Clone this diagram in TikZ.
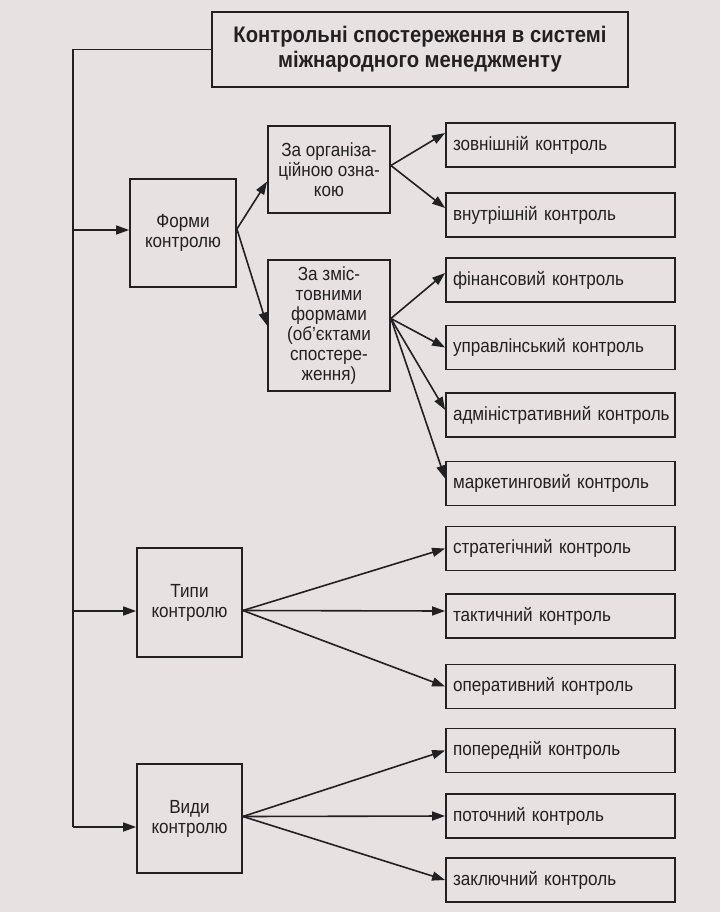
\documentclass[tikz,border=0pt]{standalone}
\usepackage{fontspec}
\setmainfont{Liberation Sans}[FakeStretch=0.9]
\usepackage{tikz}
\usetikzlibrary{arrows.meta}
\definecolor{paper}{RGB}{232,225,226}
\definecolor{ink}{RGB}{34,32,34}
\tikzset{>={Triangle[length=13pt,width=9pt]}}
\tikzset{block/.style = {shape=rectangle,draw=ink,line width=1.8pt,align=center,inner sep=4pt,text=ink,font=\fontsize{19}{20}\selectfont}}
\tikzset{item/.style = {block,text width=215pt,align=left,minimum height=44pt,inner xsep=7pt,inner ysep=8pt}}
\tikzset{link/.style = {->,draw=ink,line width=1.6pt}}

\begin{document}
\begin{tikzpicture}[x=1pt,y=-1pt]
                \fill[paper] (0,0) rectangle (720,912);
                \useasboundingbox (0,0) rectangle (720,912);

                \node[block,font=\bfseries\fontsize{22.5}{25}\selectfont,minimum width=416pt,minimum height=75pt] (T) at (420,49.5) {Контрольні спостереження в системі\\міжнародного менеджменту};

                \node[block,minimum width=106pt,minimum height=108pt] (F) at (183,233) {Форми\\контролю};
                \node[block,minimum width=122pt,minimum height=87pt] (FO) at (329,169.5) {За організа-\\ційною озна-\\кою};
                \node[block,minimum width=122pt,minimum height=131pt] (FZ) at (329,325.5) {За зміс-\\товними\\формами\\(об’єктами\\спостере-\\ження)};
                \node[block,minimum width=105pt,minimum height=109pt] (P) at (189.5,602.5) {Типи\\контролю};
                \node[block,minimum width=105pt,minimum height=109pt] (V) at (189.5,818.5) {Види\\контролю};

                \node[item] (K1) at (560.5,145) {зовнішній контроль};
                \node[item] (K2) at (560.5,215) {внутрішній контроль};
                \node[item] (K3) at (560.5,280) {фінансовий контроль};
                \node[item] (K4) at (560.5,347.5) {управлінський контроль};
                \node[item] (K5) at (560.5,415) {\mbox{адміністративний контроль}};
                \node[item] (K6) at (560.5,483.5) {маркетинговий контроль};
                \node[item] (K7) at (560.5,548.5) {стратегічний контроль};
                \node[item] (K8) at (560.5,616) {тактичний контроль};
                \node[item] (K9) at (560.5,686.5) {оперативний контроль};
                \node[item] (K10) at (560.5,750.5) {попередній контроль};
                \node[item] (K11) at (560.5,816) {поточний контроль};
                \node[item] (K12) at (560.5,880) {заключний контроль};

                \coordinate (B1) at (73,230);
                \coordinate (B2) at (73,611);
                \coordinate (B3) at (73,827);

                \draw[draw=ink,line width=1.6pt] (T.west) -| (B3);
                \draw[link] (B1) -- (B1 -| F.west);
                \draw[link] (B2) -- (B2 -| P.west);
                \draw[link] (B3) -- (B3 -| V.west);

                \draw[link] ([yshift=4pt]F.east) -- ([yshift=-12pt]FO.west);
                \draw[link] ([yshift=4pt]F.east) -- (FZ.west);

                \draw[link] ([yshift=4pt]FO.east) -- ([yshift=12pt]K1.west);
                \draw[link] ([yshift=4pt]FO.east) -- ([yshift=7pt]K2.west);

                \draw[link] ([yshift=7pt]FZ.east) -- ([yshift=7pt]K3.west);
                \draw[link] ([yshift=7pt]FZ.east) -- (K4.west);
                \draw[link] ([yshift=7pt]FZ.east) -- ([yshift=5pt]K5.west);
                \draw[link] ([yshift=7pt]FZ.east) -- ([yshift=5pt]K6.west);

                \draw[link] ([yshift=-8pt]P.east) -- (K7.west);
                \draw[link] ([yshift=-8pt]P.east) -- ([yshift=5pt]K8.west);
                \draw[link] ([yshift=-8pt]P.east) -- (K9.west);

                \draw[link] ([yshift=2pt]V.east) -- (K10.west);
                \draw[link] ([yshift=2pt]V.east) -- (K11.west);
                \draw[link] ([yshift=2pt]V.east) -- (K12.west);
            \end{tikzpicture}
\end{document}
